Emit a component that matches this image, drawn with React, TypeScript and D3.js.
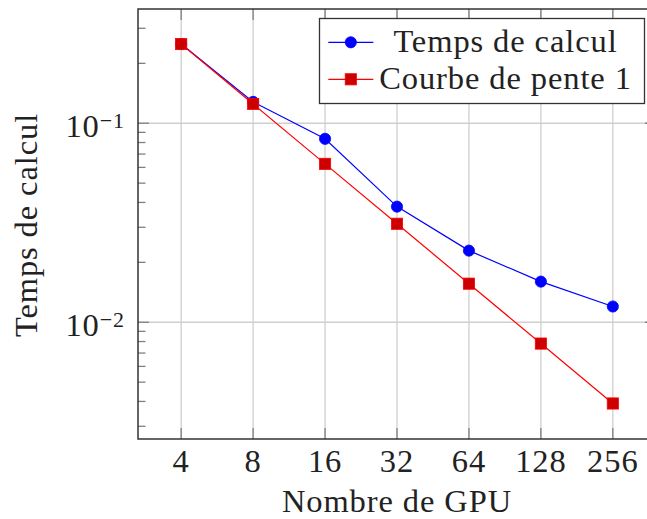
import React from "react";
import * as d3 from "d3";

const gpus = [4, 8, 16, 32, 64, 128, 256];
const tempsCalcul = [0.25, 0.128, 0.0835, 0.0381, 0.0229, 0.016, 0.012];
const pente1 = [0.25, 0.125, 0.0625, 0.03125, 0.015625, 0.0078125, 0.00390625];
const xTickLabels = ["4", "8", "16", "32", "64", "128", "256"];
const yMajorTicks = [0.1, 0.01];
const yMajorExp = ["\u22121", "\u22122"];
const legendLabels = ["Temps de calcul", "Courbe de pente 1"];

const W = 647;
const H = 519;
const FONT = "'Liberation Serif', 'DejaVu Serif', serif";
const LS = 0.9;

export default function App() {
  const left = 138, top = 9, bottom = 439, right = 656;
  const x = d3.scaleLog().base(2).domain([4 / Math.pow(2, 0.6), 256 * Math.pow(2, 0.6)]).range([left, right]);
  const y = d3.scaleLog().domain([0.00259, 0.375]).range([bottom, top]);

  const minor: number[] = [];
  for (const dec of [0.001, 0.01, 0.1]) {
    for (let k = 2; k <= 9; k++) {
      const v = k * dec;
      if (v > 0.00259 && v < 0.375) minor.push(v);
    }
  }

  const line = d3.line<number>().x((_, i) => x(gpus[i])).y((d) => y(d));
  const blue = "#0000ff";
  const red = "#ff0000";
  const redFill = "#cc0000";
  const grid = "#cfcfcf";
  const tick = "#808080";
  const frame = "#333333";
  const sw = 1.3;

  const legX = 319.5, legY = 18.5, legW = 325, legH = 85;
  const rowY = [42.3, 79.3];

  return (
    <svg width={W} height={H} style={{ position: "absolute", left: 0, top: 0, background: "#fff" }}>
      <rect x={0} y={0} width={W} height={H} fill="#fff" />
      {/* grid */}
      {gpus.map((g) => (
        <line key={"gx" + g} x1={x(g)} x2={x(g)} y1={top} y2={bottom} stroke={grid} strokeWidth={sw} />
      ))}
      {yMajorTicks.map((v) => (
        <line key={"gy" + v} x1={left} x2={right} y1={y(v)} y2={y(v)} stroke={grid} strokeWidth={sw} />
      ))}
      {/* ticks */}
      {gpus.map((g) => (
        <g key={"tx" + g}>
          <line x1={x(g)} x2={x(g)} y1={bottom} y2={bottom - 11} stroke={tick} strokeWidth={sw} />
          <line x1={x(g)} x2={x(g)} y1={top} y2={top + 11} stroke={tick} strokeWidth={sw} />
        </g>
      ))}
      {yMajorTicks.map((v) => (
        <g key={"ty" + v}>
          <line x1={left} x2={left + 11} y1={y(v)} y2={y(v)} stroke={tick} strokeWidth={sw} />
          <line x1={right} x2={right - 11} y1={y(v)} y2={y(v)} stroke={tick} strokeWidth={sw} />
        </g>
      ))}
      {minor.map((v) => (
        <g key={"my" + v}>
          <line x1={left} x2={left + 7.5} y1={y(v)} y2={y(v)} stroke={tick} strokeWidth={sw} />
          <line x1={right} x2={right - 7.5} y1={y(v)} y2={y(v)} stroke={tick} strokeWidth={sw} />
        </g>
      ))}
      {/* frame */}
      <rect x={left} y={top} width={right - left} height={bottom - top} fill="none" stroke={frame} strokeWidth={1.5} />
      {/* series */}
      <path d={line(tempsCalcul) || ""} fill="none" stroke={blue} strokeWidth={1.2} />
      <path d={line(pente1) || ""} fill="none" stroke={red} strokeWidth={1.2} />
      {tempsCalcul.map((v, i) => (
        <circle key={"c" + i} cx={x(gpus[i])} cy={y(v)} r={5.6} fill={blue} stroke={blue} strokeWidth={0.8} />
      ))}
      {pente1.map((v, i) => (
        <rect key={"s" + i} x={x(gpus[i]) - 5.6} y={y(v) - 5.6} width={11.2} height={11.2} fill={redFill} stroke={red} strokeWidth={0.8} />
      ))}
      {/* x tick labels */}
      {gpus.map((g, i) => (
        <text key={"xl" + g} x={x(g)} y={472} textAnchor="middle" fontFamily={FONT} fontSize={32.5} letterSpacing={LS} fill="#222">
          {xTickLabels[i]}
        </text>
      ))}
      {/* y tick labels */}
      {yMajorTicks.map((v, i) => (
        <text key={"yl" + v} x={125} y={y(v) + 13.4} textAnchor="end" fontFamily={FONT} fontSize={32.5} letterSpacing={LS} fill="#222">
          10
          <tspan fontSize={22} dy={-9}>{yMajorExp[i]}</tspan>
        </text>
      ))}
      {/* axis labels */}
      <text x={397} y={512} textAnchor="middle" fontFamily={FONT} fontSize={32.5} letterSpacing={LS} fill="#222">
        Nombre de GPU
      </text>
      <text transform={`translate(37,${(top + bottom) / 2 + 1}) rotate(-90)`} textAnchor="middle" fontFamily={FONT} fontSize={32.5} letterSpacing={LS} fill="#222">
        Temps de calcul
      </text>
      {/* legend */}
      <rect x={legX} y={legY} width={legW} height={legH} fill="#fff" stroke={frame} strokeWidth={1.3} />
      <line x1={328.3} x2={373.3} y1={rowY[0]} y2={rowY[0]} stroke={blue} strokeWidth={1.2} />
      <circle cx={350.8} cy={rowY[0]} r={5.6} fill={blue} stroke={blue} strokeWidth={0.8} />
      <line x1={328.3} x2={373.3} y1={rowY[1]} y2={rowY[1]} stroke={red} strokeWidth={1.2} />
      <rect x={350.8 - 5.6} y={rowY[1] - 5.6} width={11.2} height={11.2} fill={redFill} stroke={red} strokeWidth={0.8} />
      {legendLabels.map((t, i) => (
        <text key={"lg" + i} x={505.5} y={rowY[i] + 9.2} textAnchor="middle" fontFamily={FONT} fontSize={32.5} letterSpacing={LS} fill="#222">
          {t}
        </text>
      ))}
    </svg>
  );
}
